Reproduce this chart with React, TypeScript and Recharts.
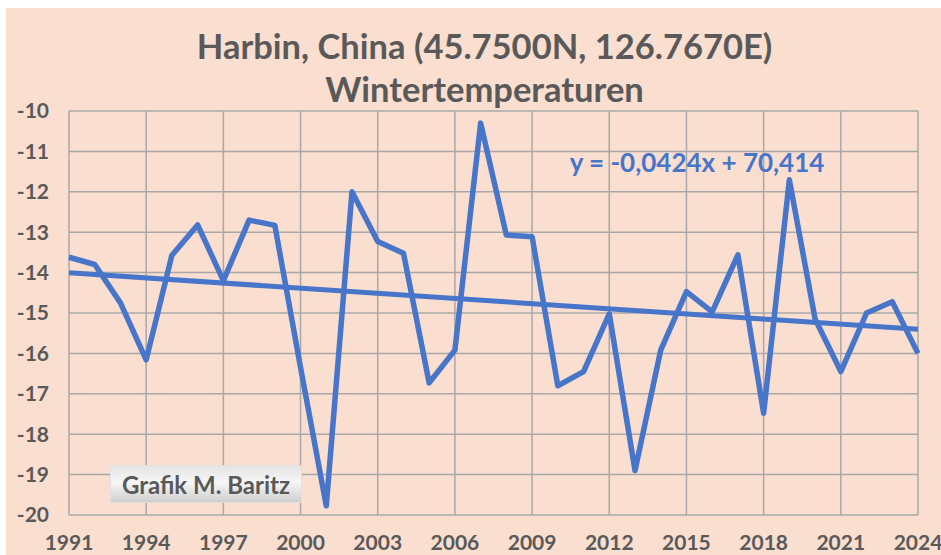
import React from "react";
import { LineChart, Line, XAxis, YAxis, CartesianGrid, ReferenceLine } from "recharts";

const years = [1991, 1992, 1993, 1994, 1995, 1996, 1997, 1998, 1999, 2000, 2001, 2002, 2003, 2004, 2005, 2006, 2007, 2008, 2009, 2010, 2011, 2012, 2013, 2014, 2015, 2016, 2017, 2018, 2019, 2020, 2021, 2022, 2023, 2024];
const temps = [-13.62, -13.8, -14.75, -16.16, -13.57, -12.82, -14.2, -12.7, -12.83, -16.35, -19.77, -12.0, -13.23, -13.52, -16.73, -15.92, -10.3, -13.07, -13.11, -16.8, -16.45, -15.02, -18.9, -15.92, -14.47, -14.97, -13.56, -17.48, -11.7, -15.15, -16.45, -15.0, -14.72, -16.0];
const xTicks = [1991, 1994, 1997, 2000, 2003, 2006, 2009, 2012, 2015, 2018, 2021, 2024];
const yTicks = [-20, -19, -18, -17, -16, -15, -14, -13, -12, -11, -10];
const trendSlope = -0.0424;
const trendIntercept = 70.414;
const titleLine1 = "Harbin, China (45.7500N, 126.7670E)";
const titleLine2 = "Wintertemperaturen";
const equationLabel = "y = -0,0424x + 70,414";
const creditLabel = "Grafik M. Baritz";

const data = years.map((y, i) => ({ year: y, temp: temps[i] }));
const trendStart = trendSlope * years[0] + trendIntercept;
const trendEnd = trendSlope * years[years.length - 1] + trendIntercept;

const FONT = "Lato, 'Open Sans', sans-serif";
const GRAY = "#595959";
const BLUE = "#4775C9";

export default function App() {
  const W = 935;
  const H = 547;
  return (
    <div style={{ position: "fixed", left: 6, top: 8, width: W, height: H, background: "#FADED0", overflow: "hidden" }}>
      <LineChart width={W} height={H} data={data} margin={{ top: 103, right: 23, left: 0, bottom: 0 }}>
        <CartesianGrid stroke="#A8A8A8" strokeWidth={1.5} horizontal vertical />
        <XAxis
          dataKey="year"
          type="number"
          domain={[1991, 2024]}
          ticks={xTicks}
          interval={0}
          axisLine={false}
          tickLine={false}
          tickSize={0}
          tickMargin={20}
          height={40}
          tick={{ fill: GRAY, fontSize: 21, fontWeight: 700, fontFamily: FONT }}
        />
        <YAxis
          type="number"
          domain={[-20, -10]}
          ticks={yTicks}
          interval={0}
          axisLine={false}
          tickLine={false}
          tickSize={0}
          tickMargin={20}
          width={63}
          tick={{ fill: GRAY, fontSize: 21, fontWeight: 700, fontFamily: FONT }}
        />
        <ReferenceLine
          segment={[{ x: years[0], y: trendStart }, { x: years[years.length - 1], y: trendEnd }]}
          stroke={BLUE}
          strokeWidth={5}
        />
        <Line
          dataKey="temp"
          stroke={BLUE}
          strokeWidth={5.5}
          dot={false}
          strokeLinejoin="round"
          isAnimationActive={false}
        />
      </LineChart>
      <div style={{ position: "absolute", left: 0, width: 957, top: 16, textAlign: "center", fontFamily: FONT, fontWeight: 700, fontSize: 34.5, color: GRAY, lineHeight: "43px", whiteSpace: "nowrap" }}>
        <div>{titleLine1}</div>
        <div>{titleLine2}</div>
      </div>
      <div style={{ position: "absolute", left: 491, width: 400, top: 138, textAlign: "center", fontFamily: FONT, fontWeight: 700, fontSize: 26, color: BLUE, whiteSpace: "nowrap" }}>
        {equationLabel}
      </div>
      <div style={{ position: "absolute", left: 104, top: 457, width: 192, height: 38, boxSizing: "border-box", background: "linear-gradient(#e4e4e4, #f6f6f6 45%, #cfcfcf)", border: "1px solid #e0e0e0", display: "flex", alignItems: "center", justifyContent: "center", fontFamily: FONT, fontWeight: 700, fontSize: 24, color: GRAY, whiteSpace: "nowrap" }}>
        {creditLabel}
      </div>
    </div>
  );
}
